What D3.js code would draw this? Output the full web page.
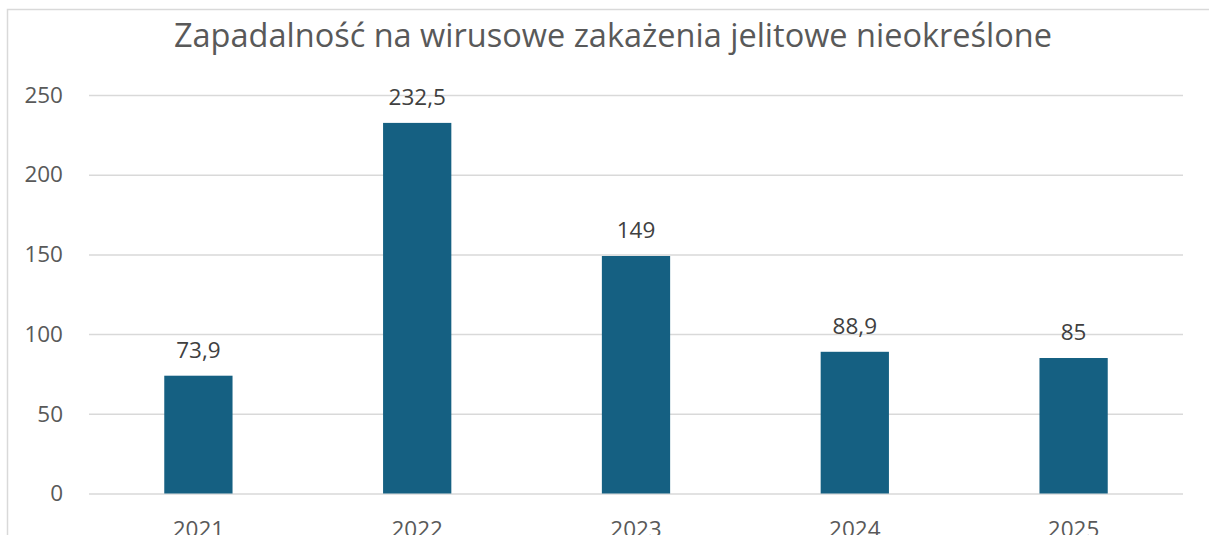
<!DOCTYPE html>
<html>
<head>
<meta charset="utf-8">
<script src="https://cdn.jsdelivr.net/npm/d3@7"></script>
<style>
  body { margin: 0; background: #fff; }
  svg { display: block; font-family: "Open Sans", "Noto Sans", sans-serif; }
</style>
</head>
<body>
<svg width="1209" height="535"></svg>
<script>
const years = ['2021', '2022', '2023', '2024', '2025'];
const values = [73.9, 232.5, 149, 88.9, 85];
const yTicks = [0, 50, 100, 150, 200, 250];
const title = 'Zapadalność na wirusowe zakażenia jelitowe nieokreślone';

const svg = d3.select('svg');
const width = +svg.attr('width');
const height = +svg.attr('height');

const margin = { top: 95, right: 26, bottom: 41.5, left: 89 };
const innerWidth = width - margin.left - margin.right;
const innerHeight = height - margin.top - margin.bottom;

// chart border (runs off the right and bottom edges)
svg.append('rect')
    .attr('x', 7.5).attr('y', 9.5)
    .attr('width', 1300).attr('height', 600)
    .attr('fill', 'none')
    .attr('stroke', '#d9d9d9')
    .attr('stroke-width', 1.5);

svg.append('text')
    .attr('x', 613).attr('y', 47)
    .attr('text-anchor', 'middle')
    .attr('fill', '#595959')
    .attr('font-size', 32.5)
    .text(title);

const xScale = d3.scaleBand().domain(years).range([0, innerWidth]);
const yScale = d3.scaleLinear().domain([0, 250]).range([innerHeight, 0]);

const g = svg.append('g').attr('transform', `translate(${margin.left},${margin.top})`);

const yAxis = g.append('g')
    .call(d3.axisLeft(yScale).tickValues(yTicks).tickSize(-innerWidth).tickPadding(26));
yAxis.select('.domain').remove();
yAxis.selectAll('line').attr('stroke', '#d9d9d9').attr('stroke-width', 1.5);
yAxis.selectAll('text').attr('fill', '#595959').attr('font-size', 22.5)
    .attr('font-family', '"Open Sans", sans-serif');

const xAxis = g.append('g')
    .attr('transform', `translate(0,${innerHeight})`)
    .call(d3.axisBottom(xScale).tickSize(0).tickPadding(28));
xAxis.select('.domain').remove();
xAxis.selectAll('text').attr('fill', '#595959').attr('font-size', 22.5)
    .attr('font-family', '"Open Sans", sans-serif');

const barWidth = xScale.bandwidth() * 0.312;

g.selectAll('rect.bar').data(years)
    .enter().append('rect')
    .attr('class', 'bar')
    .attr('x', (d, i) => xScale(d) + (xScale.bandwidth() - barWidth) / 2)
    .attr('y', (d, i) => yScale(values[i]))
    .attr('width', barWidth)
    .attr('height', (d, i) => innerHeight - yScale(values[i]))
    .attr('fill', '#156082');

g.selectAll('text.label').data(years)
    .enter().append('text')
    .attr('class', 'label')
    .attr('x', d => xScale(d) + xScale.bandwidth() / 2)
    .attr('y', (d, i) => yScale(values[i]) - 18)
    .attr('text-anchor', 'middle')
    .attr('fill', '#404040')
    .attr('font-size', 22.5)
    .text((d, i) => String(values[i]).replace('.', ','));
</script>
</body>
</html>
